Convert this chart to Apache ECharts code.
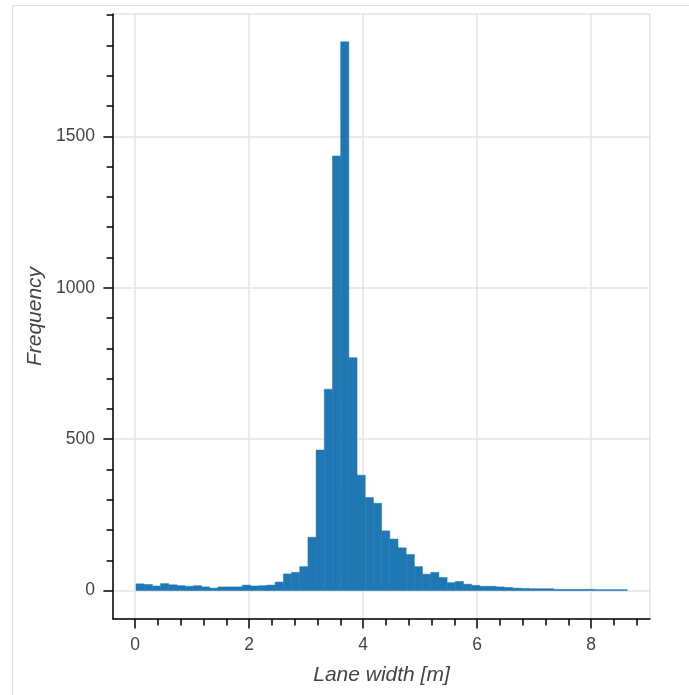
<!DOCTYPE html>
<html>
<head>
<meta charset="utf-8">
<script src="https://cdn.jsdelivr.net/npm/echarts@6/dist/echarts.min.js"></script>
<style>
  html, body { margin: 0; padding: 0; background: #fff; }
  #chart { width: 689px; height: 695px; }
</style>
</head>
<body>
<div id="chart"></div>
<script>
// Histogram of lane widths (60 regular bins)
var binStart = 0.014;      // left edge of first bin [m]
var binWidth = 0.14365;    // bin width [m]
var counts = [
  22, 20, 15, 23, 19, 16, 14, 16, 12, 8,
  12, 12, 12, 18, 15, 16, 18, 28, 55, 60,
  79, 176, 464, 665, 1435, 1812, 769, 381, 307, 288,
  197, 170, 141, 119, 79, 54, 60, 43, 26, 30,
  21, 17, 14, 14, 12, 10, 8, 7, 6, 6,
  6, 4, 4, 4, 4, 4, 3, 3, 3, 3
];
var xTickValues = [0, 2, 4, 6, 8];
var yTickValues = [0, 500, 1000, 1500];
var xName = 'Lane width [m]';
var yName = 'Frequency';

var data = counts.map(function (c, i) {
  var left = binStart + i * binWidth;
  return [left, left + binWidth, c];
});

var chart = echarts.init(document.getElementById('chart'), null, { renderer: 'canvas' });
var font = 'Liberation Sans, Helvetica, Arial, sans-serif';
var plain = function (v) { return String(v); };

chart.setOption({
  animation: false,
  backgroundColor: '#fff',
  textStyle: { fontFamily: font },
  graphic: [{
    type: 'rect',
    shape: { x: 12.5, y: 5.5, width: 1000, height: 1000 },
    style: { fill: 'none', stroke: '#e0e0e0', lineWidth: 1 },
    silent: true
  }],
  grid: {
    left: 113, top: 14, right: 39, bottom: 76,
    show: true, borderColor: '#e5e5e5', borderWidth: 1.5, backgroundColor: 'transparent'
  },
  xAxis: {
    type: 'value',
    min: -0.389, max: 9.032,
    splitNumber: 5,
    name: xName,
    nameLocation: 'middle',
    nameGap: 46,
    nameTextStyle: { fontFamily: font, fontSize: 21, fontStyle: 'italic', color: '#444' },
    axisLine: { show: true, onZero: false, lineStyle: { color: '#000', width: 1.5 } },
    axisTick: { show: true, length: 9.6, lineStyle: { color: '#000', width: 1.5 }, customValues: xTickValues },
    minorTick: { show: true, splitNumber: 5, length: 6.4, lineStyle: { color: '#000', width: 1.5 } },
    axisLabel: { fontFamily: font, fontSize: 17.5, color: '#444', margin: 17.5, customValues: xTickValues,
                 formatter: plain },
    splitLine: { show: true, lineStyle: { color: '#e5e5e5', width: 1.5 } }
  },
  yAxis: {
    type: 'value',
    min: -94, max: 1904,
    splitNumber: 4,
    name: yName,
    nameLocation: 'middle',
    nameGap: 66,
    nameTextStyle: { fontFamily: font, fontSize: 21, fontStyle: 'italic', color: '#444' },
    axisLine: { show: true, onZero: false, lineStyle: { color: '#000', width: 1.5 } },
    axisTick: { show: true, length: 9.6, lineStyle: { color: '#000', width: 1.5 }, customValues: yTickValues },
    minorTick: { show: true, splitNumber: 5, length: 6.4, lineStyle: { color: '#000', width: 1.5 } },
    axisLabel: { fontFamily: font, fontSize: 17.5, color: '#444', margin: 18, customValues: yTickValues,
                 formatter: plain },
    splitLine: { show: true, lineStyle: { color: '#e5e5e5', width: 1.5 } }
  },
  series: [{
    type: 'custom',
    clip: true,
    encode: { x: [0, 1], y: 2 },
    data: data,
    renderItem: function (params, api) {
      var p0 = api.coord([api.value(0), api.value(2)]);
      var p1 = api.coord([api.value(1), 0]);
      return {
        type: 'rect',
        shape: { x: p0[0], y: p0[1], width: p1[0] - p0[0], height: p1[1] - p0[1] },
        style: { fill: '#1f77b4', stroke: '#1f77b4', lineWidth: 0.5 }
      };
    }
  }]
});
</script>
</body>
</html>
